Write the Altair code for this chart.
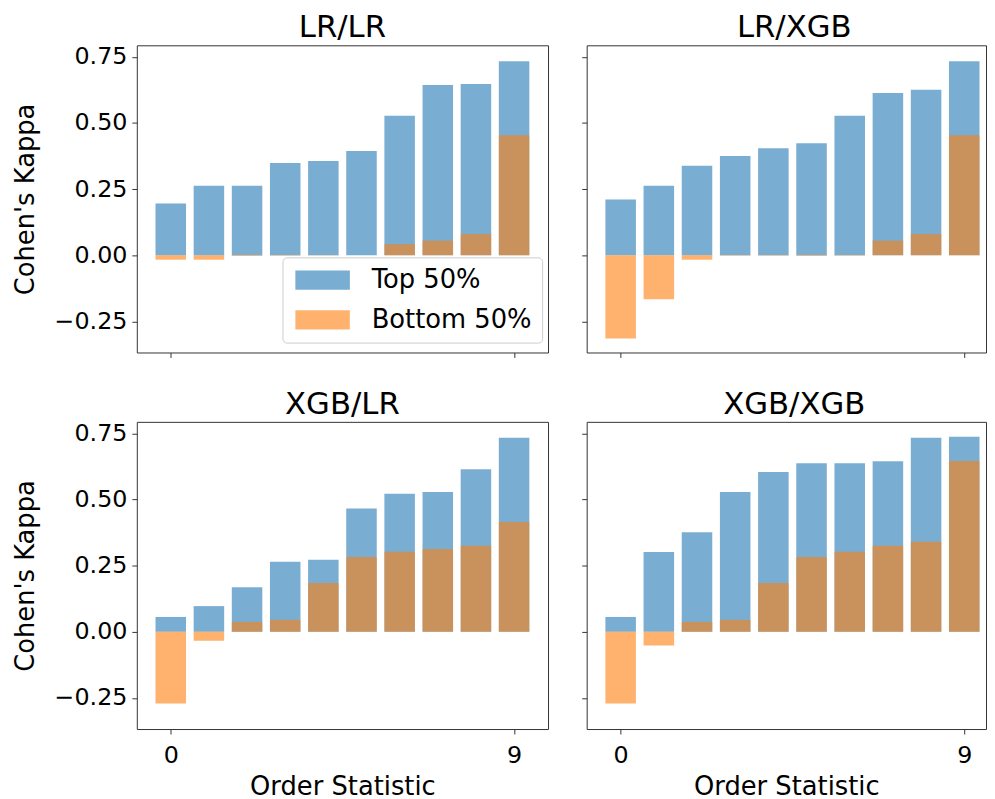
import altair as alt
import pandas as pd

panels = ["LR/LR", "LR/XGB", "XGB/LR", "XGB/XGB"]
series_names = ["Top 50%", "Bottom 50%"]
order_stat = list(range(10))

top_lr_lr = [0.196, 0.263, 0.263, 0.349, 0.356, 0.394, 0.528, 0.644, 0.648, 0.734]
bot_lr_lr = [-0.017, -0.017, -0.003, -0.002, -0.001, 0.0, 0.042, 0.055, 0.080, 0.454]
top_lr_xgb = [0.211, 0.263, 0.338, 0.375, 0.405, 0.424, 0.528, 0.614, 0.626, 0.734]
bot_lr_xgb = [-0.315, -0.167, -0.017, -0.002, -0.002, -0.003, -0.002, 0.055, 0.080, 0.454]
top_xgb_lr = [0.056, 0.097, 0.168, 0.265, 0.272, 0.466, 0.522, 0.529, 0.615, 0.734]
bot_xgb_lr = [-0.271, -0.034, 0.037, 0.045, 0.184, 0.283, 0.303, 0.313, 0.325, 0.415]
top_xgb_xgb = [0.056, 0.302, 0.376, 0.529, 0.604, 0.637, 0.637, 0.645, 0.734, 0.738]
bot_xgb_xgb = [-0.271, -0.052, 0.037, 0.045, 0.184, 0.283, 0.303, 0.325, 0.340, 0.646]

values = {
    "LR/LR": (top_lr_lr, bot_lr_lr),
    "LR/XGB": (top_lr_xgb, bot_lr_xgb),
    "XGB/LR": (top_xgb_lr, bot_xgb_lr),
    "XGB/XGB": (top_xgb_xgb, bot_xgb_xgb),
}

rows = []
for p in panels:
    for s, vals in zip(series_names, values[p]):
        for i, v in zip(order_stat, vals):
            rows.append({"panel": p, "series": s, "idx": i, "value": v})
df = pd.DataFrame(rows)

FONT = "DejaVu Sans"
cscale = alt.Scale(domain=series_names, range=["#1f77b4", "#ff7f0e"])
legend = alt.Legend(
    title=None, orient="none", legendX=147, legendY=214,
    symbolType="M-1,-0.975H4.5V0.975H-1Z", symbolSize=400,
    symbolOpacity=0.6, symbolStrokeWidth=0,
    labelFontSize=26, labelFont=FONT, labelColor="black", labelLimit=0,
    labelOffset=54, rowPadding=14, padding=10,
    strokeColor="#cccccc", fillColor="rgba(255,255,255,0.8)", cornerRadius=4,
)
yscale = alt.Scale(domain=[-0.368, 0.794], nice=False, zero=False)
minus_expr = "replace(format(datum.value, '.2f'), '-', '\u2212')"


def panel(name, col, row):
    right = col == 1
    width = 403 if right else 415
    xmax = 9.57 if right else 9.89
    xscale = alt.Scale(domain=[-0.89, xmax], nice=False, zero=False)
    xaxis = alt.Axis(
        values=[0, 9], labels=(row == 1), format="d",
        title="Order Statistic" if row == 1 else None,
    )
    yaxis = alt.Axis(
        values=[-0.25, 0, 0.25, 0.5, 0.75], labels=not right,
        title="Cohen's Kappa" if not right else None,
        labelExpr=minus_expr,
    )
    base = alt.Chart(df).transform_filter(
        alt.datum.panel == name
    ).transform_calculate(x0="datum.idx - 0.4", x1="datum.idx + 0.4", zero="0")

    layers = []
    for s in series_names:
        layers.append(
            base.transform_filter(alt.datum.series == s).mark_bar(opacity=0.6).encode(
                x=alt.X("x0:Q", scale=xscale, axis=xaxis),
                x2="x1:Q",
                y=alt.Y("value:Q", scale=yscale, axis=yaxis),
                y2="zero:Q",
                color=alt.Color("series:N", scale=cscale, legend=legend),
            )
        )
    title = alt.TitleParams(
        name, fontSize=31, font=FONT, fontWeight="normal", color="black",
        frame="group", anchor="middle", offset=1,
        dx=8 if right else 0,
    )
    return alt.layer(*layers).properties(width=width, height=310, title=title)


charts = [panel(p, i % 2, i // 2) for i, p in enumerate(panels)]

chart = alt.concat(*charts, columns=2, spacing={"row": 70, "column": 39}, bounds="flush").properties(
    padding={"left": 3, "top": 0, "right": 0, "bottom": 0}
).configure_view(stroke="#333333", strokeWidth=1).configure_axis(
    grid=False, domain=False, labelFont=FONT, titleFont=FONT, labelFontSize=24, titleFontSize=26,
    labelColor="black", titleColor="black", titleFontWeight="normal",
    tickSize=5, tickColor="#333333", labelPadding=5,
).configure_axisY(titlePadding=16).configure_axisX(titlePadding=6, labelPadding=10)

chart.save("out.html", embed_options={"renderer": "svg", "actions": False})
